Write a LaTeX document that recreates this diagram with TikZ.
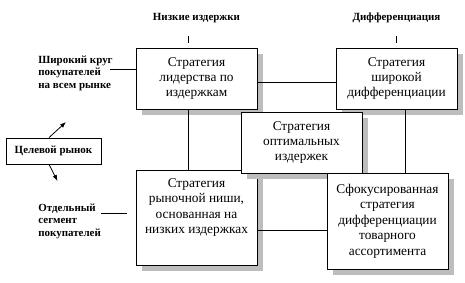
\documentclass[tikz,border=0pt]{standalone}
\usepackage{fontspec}
\setmainfont{Liberation Serif}
\usetikzlibrary{arrows.meta,shadows}
\begin{document}
\begin{tikzpicture}[x=1bp,y=-1bp,
  every path/.style={line width=0.8bp},
  stratbox/.style={draw, fill=white, inner sep=0pt, align=center,
    general shadow={fill=black!26, shadow xshift=6bp, shadow yshift=-6bp},
    font=\fontsize{13.4}{15.5}\selectfont},
  sidelab/.style={inner sep=0pt, align=left, font=\fontsize{11}{12.5}\selectfont\bfseries},
  toplab/.style={inner sep=0pt, font=\fontsize{11}{12.5}\selectfont\bfseries},
  arr/.style={-{Latex[length=6bp,width=4.5bp]}}
]
\useasboundingbox (0,0) rectangle (465,282);

% top labels
\node[toplab] (lowc) at (196.5,18) {Низкие издержки};
\node[toplab] (diff) at (396.5,18) {Дифференциация};
\coordinate (t1a) at (188,36); \coordinate (t1b) at (188,43);
\coordinate (t2a) at (396,36); \coordinate (t2b) at (396,43);
\draw (t1a) -- (t1b);
\draw (t2a) -- (t2b);

% boxes
\node[stratbox, minimum width=121bp, minimum height=61bp] (b1) at (196.5,78.5)
  {Стратегия\\лидерства по\\издержкам};
\node[stratbox, minimum width=121bp, minimum height=61bp] (b2) at (396.5,78.5)
  {Стратегия\\широкой\\дифференциации};
\node[stratbox, minimum width=121bp, minimum height=95bp] (b3) at (196.5,217.5)
  {\parbox[t][85bp][t]{115bp}{\centering\vspace*{3.5bp}Стратегия\\рыночной ниши,\\основанная на\\низких издержках}};
\node[stratbox, minimum width=121bp, minimum height=61bp] (bc) at (301.5,142.5)
  {Стратегия\\оптимальных\\издержек};
\node[stratbox, minimum width=121bp, minimum height=96bp] (b4) at (387.5,221)
  {Сфокусированная\\стратегия\\дифференциации\\товарного\\ассортимента};

% target market
\node[draw, fill=white, minimum width=95bp, minimum height=26bp, inner sep=0pt,
  font=\fontsize{11}{12.5}\selectfont\bfseries] (tm) at (53.5,151) {Целевой рынок};

% side labels
\node[sidelab, anchor=west] (wide) at (38,73) {Широкий круг\\покупателей\\на всем рынке};
\node[sidelab, anchor=west] (seg) at (38,221) {Отдельный\\сегмент\\покупателей};

% connectors
\coordinate (w1) at (110,69);
\draw (w1) -- (w1 -| b1.west);
\coordinate (s1) at (101,213.5); \coordinate (s2) at (127,213.5);
\draw (s1) -- (s2);
\draw ([yshift=-3.5bp]b1.east) -- ([yshift=-3.5bp]b1.east -| b2.west);
\draw ([xshift=-8.5bp]b1.south) -- ([xshift=-8.5bp]b1.south |- b3.north);
\draw ([xshift=8.5bp]b2.south) -- ([xshift=8.5bp]b2.south |- b4.north);
\draw ([yshift=-12.5bp]b3.east) -- ([yshift=-12.5bp]b3.east -| b4.west);

% arrows
\coordinate (a1) at (66,122);
\coordinate (a2) at (57.5,181);
\draw[arr] ([xshift=-4.5bp]tm.north) -- (a1);
\draw[arr] ([xshift=-4.5bp]tm.south) -- (a2);
\end{tikzpicture}
\end{document}
